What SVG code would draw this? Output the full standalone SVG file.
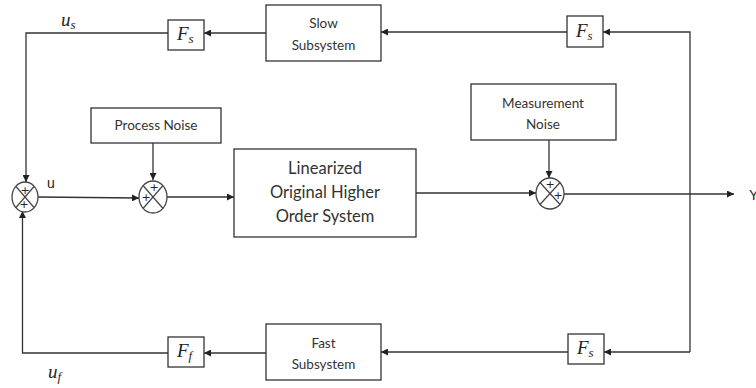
<svg xmlns="http://www.w3.org/2000/svg" width="756" height="388" viewBox="0 0 756 388">
  <defs>
    <marker id="arr" viewBox="0 0 10 10" refX="10" refY="5" markerWidth="7" markerHeight="7" markerUnits="userSpaceOnUse" orient="auto">
      <path d="M0,0 L10,5 L0,10 z" fill="#222"/>
    </marker>
  </defs>
  <style>
    .box { fill: #fff; stroke: #333; stroke-width: 1.3; }
    .wire { fill: none; stroke: #333; stroke-width: 1.3; }
    .sum { fill: #fff; stroke: #444; stroke-width: 1.3; }
    .cross { stroke: #444; stroke-width: 1.2; }
    .lbl { font-family: Lato, "Open Sans", "Liberation Sans", sans-serif; font-size: 13.5px; fill: #333; text-anchor: middle; }
    .big { font-size: 16.5px; }
    .plus { font-family: "DejaVu Sans", sans-serif; font-size: 11px; fill: #222; text-anchor: middle; }
    .math { font-family: "Liberation Serif", "DejaVu Serif", serif; font-style: italic; font-size: 19px; fill: #222; }
    .sub { font-size: 13px; }
    .sig { font-family: "Liberation Sans", sans-serif; font-size: 14px; fill: #222; }
  </style>

  <!-- connectors -->
  <g id="connectors">
    <!-- forward path -->
    <path class="wire" d="M38,197 L139,198" marker-end="url(#arr)"/>
    <path class="wire" d="M153,143 L153,180" marker-end="url(#arr)"/>
    <path class="wire" d="M167,197 L234,197" marker-end="url(#arr)"/>
    <path class="wire" d="M416,193 L536,193" marker-end="url(#arr)"/>
    <path class="wire" d="M549,140 L549,178" marker-end="url(#arr)"/>
    <path class="wire" d="M564,194 L734,194" marker-end="url(#arr)"/>
    <!-- slow feedback branch -->
    <path class="wire" d="M690,352 L690,32 L603,32" marker-end="url(#arr)"/>
    <path class="wire" d="M567,32 L381,32" marker-end="url(#arr)"/>
    <path class="wire" d="M266,33 L204,33" marker-end="url(#arr)"/>
    <path class="wire" d="M168,33 L26,33 L26,182" marker-end="url(#arr)"/>
    <!-- fast feedback branch -->
    <path class="wire" d="M690,352 L604,352" marker-end="url(#arr)"/>
    <path class="wire" d="M568,352 L381,352" marker-end="url(#arr)"/>
    <path class="wire" d="M266,353 L204,353" marker-end="url(#arr)"/>
    <path class="wire" d="M168,353 L22.5,353 L22.5,211" marker-end="url(#arr)"/>
  </g>

  <!-- signal labels -->
  <text class="math" x="61" y="26">u<tspan class="sub" dy="3">s</tspan></text>
  <text class="sig" x="47" y="188">u</text>
  <text class="math" x="48" y="378">u<tspan class="sub" dy="3">f</tspan></text>
  <text class="sig" x="749" y="200">Y</text>

  <!-- summing junction 1 -->
  <g id="sum1">
    <ellipse class="sum" cx="25" cy="197" rx="13" ry="15"/>
    <line class="cross" x1="16" y1="186.5" x2="34" y2="207.5"/>
    <line class="cross" x1="34" y1="186.5" x2="16" y2="207.5"/>
    <text class="plus" x="25" y="194">+</text>
    <text class="plus" x="24" y="208">+</text>
  </g>

  <!-- summing junction 2 -->
  <g id="sum2">
    <ellipse class="sum" cx="153" cy="197" rx="14" ry="16"/>
    <line class="cross" x1="143" y1="185.5" x2="163" y2="208.5"/>
    <line class="cross" x1="163" y1="185.5" x2="143" y2="208.5"/>
    <text class="plus" x="154" y="191">+</text>
    <text class="plus" x="146" y="201">+</text>
  </g>

  <!-- summing junction 3 -->
  <g id="sum3">
    <ellipse class="sum" cx="550" cy="193.5" rx="14" ry="15.5"/>
    <line class="cross" x1="540" y1="182.5" x2="560" y2="204.5"/>
    <line class="cross" x1="560" y1="182.5" x2="540" y2="204.5"/>
    <text class="plus" x="550" y="188">+</text>
    <text class="plus" x="558" y="199">+</text>
  </g>

  <!-- process noise -->
  <g id="process-noise">
    <rect class="box" x="91" y="108" width="130" height="35"/>
    <text class="lbl" x="156" y="130">Process Noise</text>
  </g>

  <!-- plant -->
  <g id="plant">
    <rect class="box" x="234" y="149" width="182" height="88"/>
    <text class="lbl big" x="325" y="174">Linearized</text>
    <text class="lbl big" x="325" y="198">Original Higher</text>
    <text class="lbl big" x="325" y="222">Order System</text>
  </g>

  <!-- measurement noise -->
  <g id="measurement-noise">
    <rect class="box" x="471" y="84" width="145" height="56"/>
    <text class="lbl" x="543" y="108">Measurement</text>
    <text class="lbl" x="543" y="129">Noise</text>
  </g>

  <!-- slow branch -->
  <g id="fs-top-right">
    <rect class="box" x="567" y="16" width="36" height="31"/>
    <text class="math" x="576" y="37">F<tspan class="sub" dy="3">s</tspan></text>
  </g>
  <g id="slow-subsystem">
    <rect class="box" x="266" y="5" width="115" height="56"/>
    <text class="lbl" x="323.5" y="28">Slow</text>
    <text class="lbl" x="323.5" y="50">Subsystem</text>
  </g>
  <g id="fs-top-left">
    <rect class="box" x="168" y="20" width="36" height="30"/>
    <text class="math" x="177" y="40">F<tspan class="sub" dy="3">s</tspan></text>
  </g>

  <!-- fast branch -->
  <g id="fs-bottom-right">
    <rect class="box" x="568" y="334" width="36" height="30"/>
    <text class="math" x="577" y="354">F<tspan class="sub" dy="3">s</tspan></text>
  </g>
  <g id="fast-subsystem">
    <rect class="box" x="266" y="324" width="115" height="56"/>
    <text class="lbl" x="323.5" y="348">Fast</text>
    <text class="lbl" x="323.5" y="369">Subsystem</text>
  </g>
  <g id="ff-bottom-left">
    <rect class="box" x="168" y="337" width="36" height="30"/>
    <text class="math" x="177" y="357">F<tspan class="sub" dy="3">f</tspan></text>
  </g>
</svg>
